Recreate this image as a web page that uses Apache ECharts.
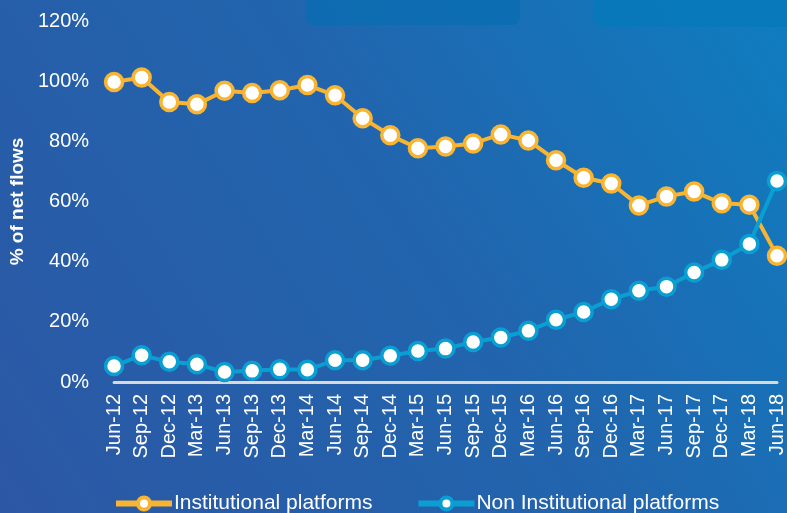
<!DOCTYPE html>
<html>
<head>
<meta charset="utf-8">
<script src="https://cdn.jsdelivr.net/npm/echarts@6/dist/echarts.min.js"></script>
<style>
  html, body { margin: 0; padding: 0; }
  #main { width: 787px; height: 513px; }
</style>
</head>
<body>
<div id="main"></div>
<script>
// quarters Jun-12 .. Jun-18
const categories = ['Jun-12', 'Sep-12', 'Dec-12', 'Mar-13', 'Jun-13', 'Sep-13', 'Dec-13', 'Mar-14',
  'Jun-14', 'Sep-14', 'Dec-14', 'Mar-15', 'Jun-15', 'Sep-15', 'Dec-15', 'Mar-16', 'Jun-16',
  'Sep-16', 'Dec-16', 'Mar-17', 'Jun-17', 'Sep-17', 'Dec-17', 'Mar-18', 'Jun-18'];

const institutional = [99.7, 101.2, 93.1, 92.3, 96.8, 96.1, 97.0, 98.7, 95.3, 87.7, 82.0, 77.7,
  78.3, 79.3, 82.3, 80.3, 73.7, 67.9, 66.0, 58.7, 61.7, 63.3, 59.4, 58.9, 42.0];

const nonInstitutional = [5.3, 8.9, 6.7, 5.9, 3.3, 3.7, 4.2, 4.1, 7.2, 7.2, 8.7, 10.3,
  11.1, 13.3, 14.8, 17.0, 20.7, 23.3, 27.5, 30.3, 31.7, 36.4, 40.6, 45.9, 66.8];

const seriesNames = ['Institutional platforms', 'Non Institutional platforms'];
const seriesColors = ['#f9b532', '#0a9fd3'];

const chart = echarts.init(document.getElementById('main'));

function lineSeries(name, data, color) {
  return {
    name: name,
    type: 'line',
    data: data,
    symbol: 'circle',
    symbolSize: 17,
    showAllSymbol: true,
    lineStyle: { color: color, width: 4 },
    itemStyle: { color: '#ffffff', borderColor: color, borderWidth: 3.5 },
    emphasis: { disabled: true },
    animation: false
  };
}

chart.setOption({
  backgroundColor: {
    type: 'linear', x: 0, y: 1, x2: 1, y2: 0,
    colorStops: [
      { offset: 0, color: '#2c57a4' },
      { offset: 0.55, color: '#2165ae' },
      { offset: 1, color: '#0f7dc0' }
    ]
  },
  graphic: [
    { type: 'rect', shape: { x: 305, y: -10, width: 215, height: 35, r: 8 }, style: { fill: '#0a6db1', opacity: 0.8 }, z: -1 },
    { type: 'rect', shape: { x: 593, y: -10, width: 200, height: 37, r: 8 }, style: { fill: '#0679ba', opacity: 0.8 }, z: -1 }
  ],
  grid: { left: 112, right: 9, top: 21, bottom: 131 },
  legend: {
    data: seriesNames,
    left: 113,
    top: 493,
    padding: 0,
    itemWidth: 56,
    itemHeight: 15,
    itemGap: 43,
    lineStyle: { width: 6 },
    itemStyle: { borderWidth: 4 },
    textStyle: { color: '#ffffff', fontSize: 21, fontFamily: 'Liberation Sans', padding: [0, 0, 0, -3] }
  },
  xAxis: {
    type: 'category',
    data: categories,
    boundaryGap: false,
    axisLine: { lineStyle: { color: '#d9d9d9', width: 3 } },
    axisTick: { show: false },
    axisLabel: {
      color: '#ffffff', fontSize: 20, fontFamily: 'Liberation Sans',
      rotate: 90, interval: 0, margin: 12
    }
  },
  yAxis: {
    type: 'value',
    min: 0, max: 120, interval: 20,
    name: '% of net flows',
    nameLocation: 'middle',
    nameRotate: 90,
    nameGap: 74,
    nameTextStyle: { color: '#ffffff', fontSize: 19, fontWeight: 'bold', fontFamily: 'Liberation Sans' },
    axisLine: { show: false },
    axisTick: { show: false },
    splitLine: { show: false },
    axisLabel: {
      color: '#ffffff', fontSize: 20, fontFamily: 'Liberation Sans', margin: 25,
      formatter: '{value}%'
    }
  },
  series: [
    lineSeries(seriesNames[0], institutional, seriesColors[0]),
    lineSeries(seriesNames[1], nonInstitutional, seriesColors[1])
  ]
});
</script>
</body>
</html>
